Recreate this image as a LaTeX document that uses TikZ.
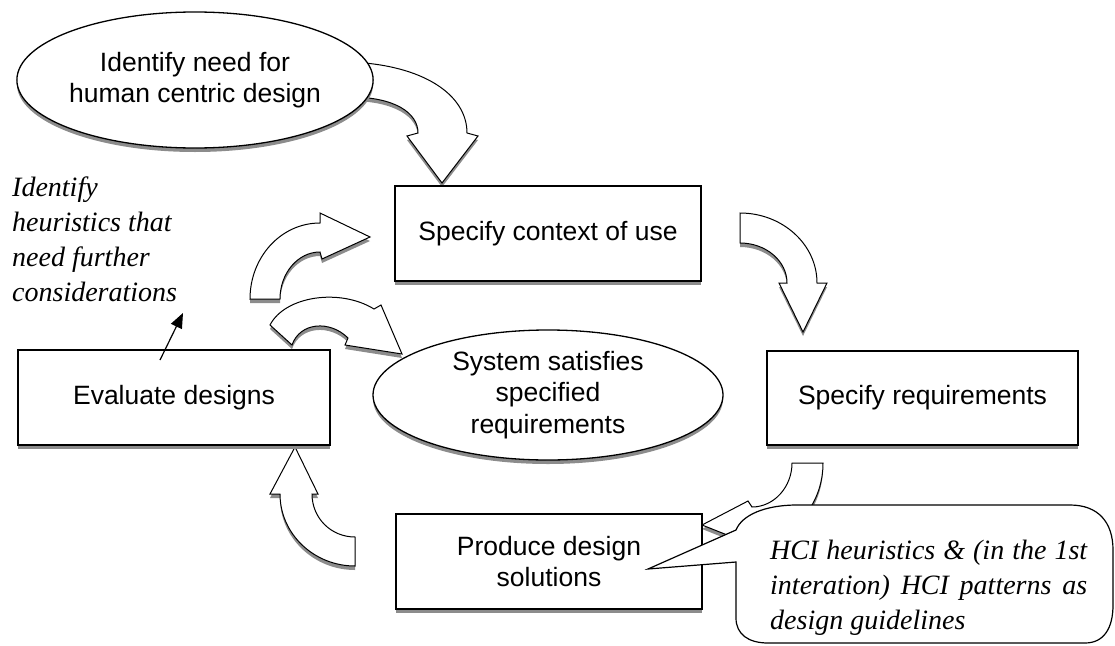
\documentclass[tikz,border=0pt]{standalone}
\usepackage{fontspec}
\setmainfont{Liberation Serif}
\setsansfont{Liberation Sans}
\usetikzlibrary{shapes.geometric,shadows,arrows.meta}

\begin{document}
\begin{tikzpicture}[x=1pt,y=-1pt,
    shade/.style={drop shadow={shadow xshift=0pt,shadow yshift=-4pt,fill=black!45,opacity=1}},
    box/.style={draw,line width=1.6pt,fill=white,shade,minimum width=306pt,minimum height=95pt,inner sep=0pt,
      align=center,font=\sffamily\fontsize{26.5}{31.5}\selectfont},
    bubble/.style={ellipse,draw,line width=1.3pt,fill=white,shade,minimum width=350pt,inner sep=0pt,
      align=center,font=\sffamily\fontsize{26.5}{31.5}\selectfont},
    blockarrow/.style={draw,line width=1pt,fill=white,shade},
    note/.style={inner sep=0pt,align=left,font=\fontsize{28}{35}\selectfont\itshape}]
  \clip (0,0) rectangle (1115,645);

  % block arrows of the cycle
  \path[blockarrow] (350,62) .. controls (424,65) and (467,95) .. (467,133) -- (478,136) -- (442,183) -- (407,136)
    -- (418,133) .. controls (418,113) and (395,97) .. (350,97) -- cycle;
  \path[blockarrow] (740,213) .. controls (782,213) and (817,244) .. (817,283) -- (827,283) -- (803,332) -- (779,283)
    -- (787,283) .. controls (787,261) and (766,243) .. (740,243) -- cycle;
  \path[blockarrow] (792,463) -- (823,463) .. controls (823,500) and (800,535) .. (757,541) -- (760,548) -- (702,525)
    -- (748,501) -- (752,507) .. controls (774,507) and (792,487) .. (792,463) -- cycle;
  \path[blockarrow] (355,566) .. controls (314,566) and (280,534) .. (280,494) -- (270,494) -- (295,447) -- (318,494)
    -- (312,494) .. controls (312,518) and (331,537) .. (355,537) -- cycle;
  \path[blockarrow] (250,299) .. controls (250,257) and (281,223) .. (320,223) -- (320,213) -- (370,237) -- (322,259)
    -- (320,252) .. controls (298,252) and (280,273) .. (280,299) -- cycle;
  \path[blockarrow] (270,325) .. controls (285,296) and (340,288) .. (374,309) -- (381,305) -- (402,354) -- (345,345)
    -- (348,338) .. controls (330,320) and (300,322) .. (292,345) -- cycle;

  % steps
  \node[bubble,minimum height=136pt] (need) at (195,80) {Identify need for\\human centric design};
  \node[box] (context) at (548,233.5) {Specify context of use};
  \node[box,minimum width=312pt] (evaluate) at (174,397.5) {Evaluate designs};
  \node[bubble,minimum height=130pt] (satisfied) at (548,395) {System satisfies\\specified\\requirements};
  \node[box,minimum width=311pt,minimum height=94pt] (requirements) at (922.5,398) {Specify requirements};
  \node[box] (produce) at (549,561.5) {Produce design\\solutions};

  % callout on the design step
  \coordinate (hcitip) at (648,569);
  \path[draw,line width=1.2pt,fill=white] (736,562) -- (736,618) .. controls (736,634) and (748,643) .. (768,643)
    -- (1085,643) .. controls (1104,643) and (1113,628) .. (1113,605) -- (1113,550)
    .. controls (1113,522) and (1098,505) .. (1070,505) -- (797,505)
    .. controls (765,505) and (742,515) .. (736,530) -- (hcitip) -- cycle;
  \node[note,anchor=north west] (hci) at (770,540)
    {\makebox[317pt][s]{HCI heuristics \& (in the 1st}\\\makebox[317pt][s]{interation) HCI patterns as}\\design guidelines};

  % remark on evaluation
  \node[note,anchor=north west] (heuristics) at (12,177) {Identify\\heuristics that\\need further\\considerations};
  \coordinate (ptail) at (160,360);
  \coordinate (ptip) at (183,313);
  \draw[line width=1.2pt,-{Triangle[length=15pt,width=12pt]}] (ptail) -- (ptip);
\end{tikzpicture}
\end{document}
